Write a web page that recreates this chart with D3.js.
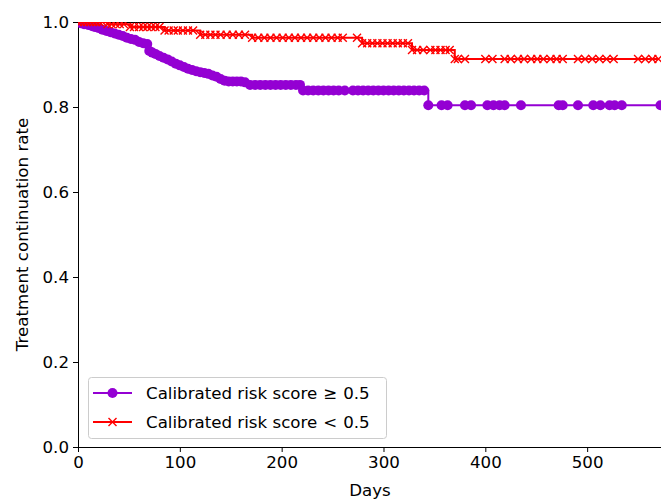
<!DOCTYPE html>
<html>
<head>
<meta charset="utf-8">
<script src="https://cdn.jsdelivr.net/npm/d3@7"></script>
<style>
  body { margin: 0; background: #fff; }
  svg { display: block; font-family: "DejaVu Sans", sans-serif; }
</style>
</head>
<body>
<div id="chart"></div>
<script>
// ~~~~~~~~~~~~~~~~~~ DATA
// group 1: calibrated risk score >= 0.5
let highDays = [0, 3, 6, 10, 14, 17, 20, 24, 28, 32, 36, 40, 44, 48, 52, 56, 60, 64, 68,
  70, 73, 76, 80, 84, 88, 92, 96, 100, 104, 108, 112, 116, 120, 124, 128, 132, 136,
  140, 144, 148, 152, 156, 160, 164, 169, 174, 179, 184, 189, 194, 199, 204, 209, 214, 218,
  221, 226, 231, 236, 241, 246, 251, 256, 262, 270, 275, 280, 285, 290, 295, 300, 305,
  310, 315, 320, 325, 330, 335, 340, 344, 357, 363, 380, 386, 402, 408, 414, 419, 435,
  472, 476, 491, 506, 513, 522, 527, 534, 572];
let highSurv = [1.0, 0.997, 0.995, 0.993, 0.99, 0.988, 0.986, 0.982, 0.979, 0.976, 0.973, 0.97, 0.967, 0.963, 0.96, 0.958, 0.953, 0.95, 0.948,
  0.932, 0.928, 0.925, 0.92, 0.916, 0.912, 0.907, 0.902, 0.898, 0.894, 0.89, 0.887, 0.884, 0.882, 0.88, 0.878, 0.874, 0.871,
  0.866, 0.862, 0.86, 0.86, 0.86, 0.86, 0.858, 0.852, 0.852, 0.852, 0.852, 0.852, 0.852, 0.852, 0.852, 0.852, 0.852, 0.852,
  0.839, 0.839, 0.839, 0.839, 0.839, 0.839, 0.839, 0.839, 0.839, 0.839, 0.839, 0.839, 0.839, 0.839, 0.839, 0.839, 0.839,
  0.839, 0.839, 0.839, 0.839, 0.839, 0.839, 0.839, 0.804, 0.804, 0.804, 0.804, 0.804, 0.804, 0.804, 0.804, 0.804, 0.804,
  0.804, 0.804, 0.804, 0.804, 0.804, 0.804, 0.804, 0.804, 0.804];

// group 2: calibrated risk score < 0.5
let lowDays = [0, 3, 6, 9, 12, 15, 18, 21, 24, 29, 33, 37, 41, 45, 51, 55, 60, 64, 68, 72, 76, 80,
  85, 89, 94, 98, 103, 108, 113, 120, 125, 130, 135, 140, 146, 152, 158, 164,
  171, 177, 183, 189, 195, 201, 207, 213, 219, 225, 231, 237, 243, 249, 255, 260, 274,
  279, 284, 289, 294, 299, 304, 309, 314, 319, 324, 328, 333, 339, 346, 351, 356, 361, 365,
  370, 373, 380, 400, 407, 419, 425, 432, 438, 445, 451, 457, 464, 470, 476, 491, 498, 505,
  512, 519, 526, 550, 557, 564, 570];
let lowSurv = [1.0, 1.0, 1.0, 1.0, 1.0, 1.0, 1.0, 1.0, 1.0, 0.995, 0.995, 0.995, 0.995, 0.995, 0.988, 0.988, 0.988, 0.988, 0.988, 0.988, 0.988, 0.988,
  0.98, 0.98, 0.98, 0.98, 0.98, 0.98, 0.98, 0.97, 0.97, 0.97, 0.97, 0.97, 0.97, 0.97, 0.97, 0.97,
  0.963, 0.963, 0.963, 0.963, 0.963, 0.963, 0.963, 0.963, 0.963, 0.963, 0.963, 0.963, 0.963, 0.963, 0.963, 0.963, 0.963,
  0.95, 0.95, 0.95, 0.95, 0.95, 0.95, 0.95, 0.95, 0.95, 0.95, 0.934, 0.934, 0.934, 0.934, 0.934, 0.934, 0.934, 0.934,
  0.913, 0.913, 0.913, 0.913, 0.913, 0.913, 0.913, 0.913, 0.913, 0.913, 0.913, 0.913, 0.913, 0.913, 0.913, 0.913, 0.913, 0.913,
  0.913, 0.913, 0.913, 0.913, 0.913, 0.913, 0.913];

// legend labels: text, relation sign, threshold
let seriesNames = [['Calibrated risk score', '\u2265', '0.5'], ['Calibrated risk score', '<', '0.5']];
let xTicks = [0, 100, 200, 300, 400, 500];
let yTicks = [0.0, 0.2, 0.4, 0.6, 0.8, 1.0];

// ~~~~~~~~~~~~~~~~~~ VARIABLES
let width = 661;
let height = 501;
let plotLeft = 78, plotTop = 22, plotRight = 662, plotBottom = 447;
let fontSize = 16.67;
let purple = '#9400d3';
let red = '#ff0000';

let x = d3.scaleLinear().domain([0, 573.5]).range([plotLeft, plotRight]);
let y = d3.scaleLinear().domain([0, 1]).range([plotBottom, plotTop]);

let svg = d3.select('#chart').append('svg')
  .attr('width', width)
  .attr('height', height);

svg.append('defs').append('clipPath').attr('id', 'plotclip')
  .append('rect')
  .attr('x', plotLeft).attr('y', plotTop)
  .attr('width', plotRight - plotLeft).attr('height', plotBottom - plotTop);

// ~~~~~~~~~~~~~~~~~~ AXES
let xAxis = svg.append('g')
  .attr('transform', 'translate(0,' + plotBottom + ')')
  .call(d3.axisBottom(x).tickValues(xTicks).tickFormat(d3.format('d')).tickSizeOuter(0).tickSize(5).tickPadding(4));

let yAxis = svg.append('g')
  .attr('transform', 'translate(' + plotLeft + ',0)')
  .call(d3.axisLeft(y).tickValues(yTicks).tickFormat(d3.format('.1f')).tickSizeOuter(0).tickSize(5).tickPadding(4));

[xAxis, yAxis].forEach(function(g) {
  g.selectAll('text').attr('font-size', fontSize).attr('font-family', '"DejaVu Sans", sans-serif').attr('fill', '#000');
  g.selectAll('line').attr('stroke', '#000').attr('stroke-width', 1);
  g.select('.domain').remove();
});

// spines (right spine falls just outside the picture)
svg.append('line').attr('x1', plotLeft).attr('x2', plotLeft).attr('y1', plotTop).attr('y2', plotBottom)
  .attr('stroke', '#000').attr('stroke-width', 1).attr('shape-rendering', 'crispEdges');
svg.append('line').attr('x1', plotLeft).attr('x2', plotRight).attr('y1', plotBottom).attr('y2', plotBottom)
  .attr('stroke', '#000').attr('stroke-width', 1).attr('shape-rendering', 'crispEdges');
svg.append('line').attr('x1', plotLeft).attr('x2', plotRight).attr('y1', plotTop).attr('y2', plotTop)
  .attr('stroke', '#000').attr('stroke-width', 1).attr('shape-rendering', 'crispEdges');

svg.append('text')
  .attr('x', (plotLeft + plotRight) / 2).attr('y', 496)
  .attr('text-anchor', 'middle').attr('font-size', fontSize)
  .text('Days');

svg.append('text')
  .attr('transform', 'translate(28,' + ((plotTop + plotBottom) / 2) + ') rotate(-90)')
  .attr('text-anchor', 'middle').attr('font-size', fontSize)
  .text('Treatment continuation rate');

// ~~~~~~~~~~~~~~~~~~ CURVES
let plot = svg.append('g').attr('clip-path', 'url(#plotclip)');

let step = d3.line()
  .x(function(d) { return x(d[0]); })
  .y(function(d) { return y(d[1]); })
  .curve(d3.curveStepAfter);

let highData = d3.zip(highDays, highSurv);
let lowData = d3.zip(lowDays, lowSurv);

function crossPath(s) {
  return 'M' + (-s) + ',' + (-s) + 'L' + s + ',' + s + 'M' + (-s) + ',' + s + 'L' + s + ',' + (-s);
}

plot.append('path')
  .attr('d', step(highData))
  .attr('fill', 'none').attr('stroke', purple).attr('stroke-width', 2);

plot.selectAll('.dot')
  .data(highData)
  .enter()
  .append('circle')
  .attr('class', 'dot')
  .attr('cx', function(d) { return x(d[0]); })
  .attr('cy', function(d) { return y(d[1]); })
  .attr('r', 5)
  .attr('fill', purple);

plot.append('path')
  .attr('d', step(lowData))
  .attr('fill', 'none').attr('stroke', red).attr('stroke-width', 2);

plot.selectAll('.cross')
  .data(lowData)
  .enter()
  .append('path')
  .attr('class', 'cross')
  .attr('transform', function(d) { return 'translate(' + x(d[0]) + ',' + y(d[1]) + ')'; })
  .attr('d', crossPath(4))
  .attr('fill', 'none').attr('stroke', red).attr('stroke-width', 1.4);

// ~~~~~~~~~~~~~~~~~~ LEGEND
let legend = svg.append('g');
legend.append('rect')
  .attr('x', 88.5).attr('y', 377.5).attr('width', 298).attr('height', 61)
  .attr('rx', 3).attr('fill', '#fff').attr('fill-opacity', 0.8)
  .attr('stroke', '#cccccc').attr('stroke-width', 1);

let colors = [purple, red];
let items = legend.selectAll('.legend')
  .data(seriesNames)
  .enter()
  .append('g')
  .attr('class', 'legend')
  .attr('transform', function(d, i) { return 'translate(93,' + (393 + i * 29) + ')'; });

items.append('line')
  .attr('x1', 0).attr('x2', 39).attr('y1', 0).attr('y2', 0)
  .attr('stroke', function(d, i) { return colors[i]; }).attr('stroke-width', 2);

items.each(function(d, i) {
  let g = d3.select(this);
  if (i === 0) {
    g.append('circle').attr('cx', 19.5).attr('cy', 0).attr('r', 5).attr('fill', purple);
  } else {
    g.append('path').attr('transform', 'translate(19.5,0)').attr('d', crossPath(4))
      .attr('fill', 'none').attr('stroke', red).attr('stroke-width', 1.4);
  }
});

let labels = items.append('text')
  .attr('x', 53).attr('y', 6)
  .attr('font-size', fontSize);
labels.append('tspan').text(function(d) { return d[0]; });
labels.append('tspan').attr('dx', 6).text(function(d) { return d[1]; });
labels.append('tspan').attr('dx', 6).text(function(d) { return d[2]; });
</script>
</body>
</html>
